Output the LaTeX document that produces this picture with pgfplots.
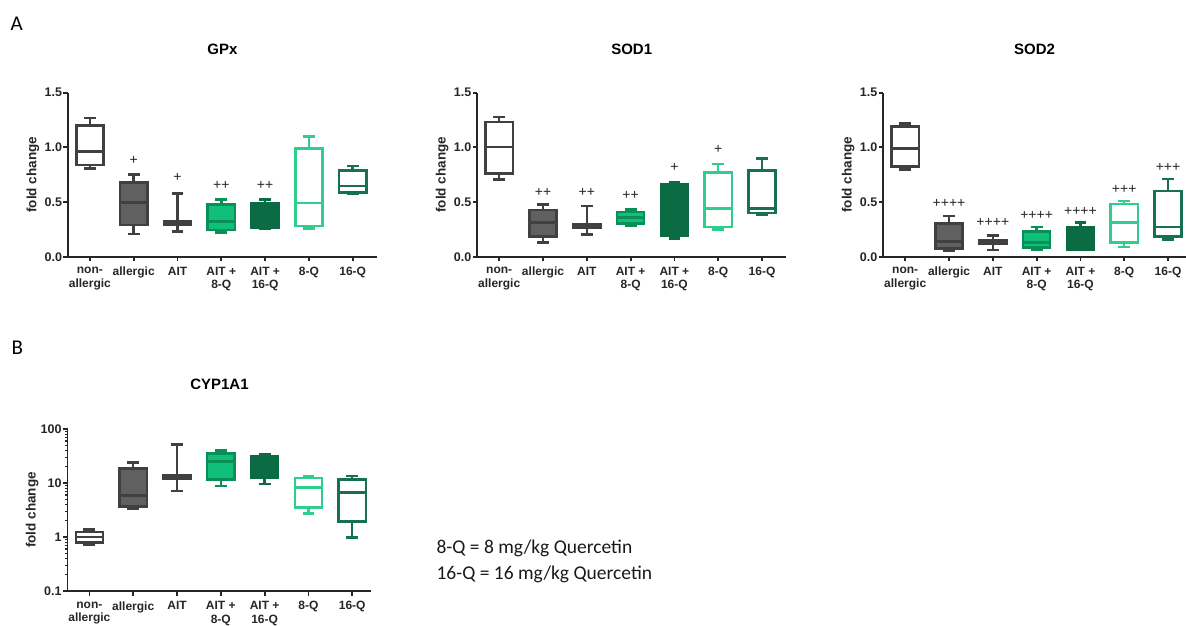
\documentclass[border=0pt]{standalone}
\usepackage{pgfplots}
\pgfplotsset{compat=1.18}
\usepgfplotslibrary{statistics}
\usepackage{fontspec}
\setmainfont{Liberation Sans}
\newfontfamily\calibri{Carlito}
\definecolor{dg}{HTML}{404040}
\definecolor{mg}{HTML}{606060}
\definecolor{gEight}{HTML}{10C07A}
\definecolor{gEightE}{HTML}{0A8F57}
\definecolor{gSixteen}{HTML}{0B6B42}
\definecolor{gLight}{HTML}{2ECF8E}
\definecolor{gQSixteen}{HTML}{177050}
\tikzset{
 nonall/.style={draw=dg, fill=white},
 allg/.style={draw=dg, fill=mg},
 ait/.style={draw=dg, fill=dg},
 aiteight/.style={draw=gEightE, fill=gEight},
 aitsixteen/.style={draw=gSixteen, fill=gSixteen},
 qeight/.style={draw=gLight, fill=white},
 qsixteen/.style={draw=gQSixteen, fill=white},
}
\newcommand{\bx}[7]{\addplot[#1, line width=2.5pt, solid, boxplot prepared={draw position=#2, lower whisker=#3, lower quartile=#4, median=#5, upper quartile=#6, upper whisker=#7}] coordinates {};}
\newcommand{\sig}[1]{\addplot[draw=none, mark=none, nodes near coords, point meta=explicit symbolic, nodes near coords style={anchor=center, font=\fontsize{14}{14}\selectfont, text=black!85, inner sep=0pt}] coordinates {#1};}
\pgfplotsset{
 boxax/.style={
  scale only axis, anchor=south west,
  axis x line=bottom, axis y line=left,
  axis line style={-, line width=1.8pt, draw=black!85},
  clip=false,
  xmin=-0.5,
  xtick={0,1,2,3,4,5,6},
  xticklabels={non-\\allergic, allergic, AIT, AIT +\\8-Q, AIT +\\16-Q, 8-Q, 16-Q},
  xticklabel style={align=center, font=\fontsize{12}{13.5}\selectfont\bfseries, text=black!85, yshift=-2.5pt},
  yticklabel style={font=\fontsize{12.5}{14}\selectfont\bfseries, text=black!85, xshift=2pt},
  tick align=outside, major tick length=4.5pt, minor tick length=2.5pt,
  every tick/.style={line width=1.8pt, black!85},
  minor tick style={line width=1.3pt, black!85},
  /pgf/number format/assume math mode=true,
  ylabel={fold change},
  ylabel style={font=\fontsize{13.5}{15}\selectfont\bfseries, text=black!85, anchor=center},
  title style={font=\fontsize{15}{17}\selectfont\bfseries, text=black, anchor=center},
  boxplot/draw direction=y,
  boxplot/box extend=0.62, boxplot/whisker extend=0.27,
 },
 linax/.style={
  height=164pt, ymin=0, ymax=1.5, ytick={0,0.5,1,1.5},
  yticklabels={0.0,0.5,1.0,1.5},
  title style={at={(axis description cs:0.5,1.23)}},
 },
}
\begin{document}
\begin{tikzpicture}
\useasboundingbox (0pt,0pt) rectangle (1186pt,-625pt);
\node[anchor=base west, font=\calibri\fontsize{21}{24}\selectfont] at (7pt,-30pt) {A};
\node[anchor=base west, font=\calibri\fontsize{21}{24}\selectfont] at (8pt,-354pt) {B};
% GPx
\begin{axis}[boxax, linax, at={(68pt,-256.7pt)}, width=308.8pt, xmax=6.55, title={GPx},
  ylabel style={at={(axis description cs:-0.114,0.5)}}]
\bx{nonall}{0}{0.808}{0.839}{0.960}{1.200}{1.268}
\bx{allg}{1}{0.209}{0.290}{0.497}{0.680}{0.750}
\bx{ait}{2}{0.230}{0.296}{0.312}{0.328}{0.580}
\bx{aiteight}{3}{0.223}{0.244}{0.320}{0.476}{0.521}
\bx{aitsixteen}{4}{0.253}{0.268}{0.350}{0.488}{0.521}
\bx{qeight}{5}{0.256}{0.280}{0.491}{0.991}{1.098}
\bx{qsixteen}{6}{0.573}{0.588}{0.649}{0.787}{0.829}
\sig{(1,0.882)[+] (2,0.729)[+] (3,0.650)[++] (4,0.650)[++]}
\end{axis}
% SOD1
\begin{axis}[boxax, linax, at={(477.3pt,-256.7pt)}, width=308.8pt, xmax=6.55, title={SOD1},
  ylabel style={at={(axis description cs:-0.114,0.5)}}]
\bx{nonall}{0}{0.707}{0.759}{1.003}{1.232}{1.280}
\bx{allg}{1}{0.131}{0.183}{0.311}{0.427}{0.476}
\bx{ait}{2}{0.204}{0.268}{0.280}{0.299}{0.463}
\bx{aiteight}{3}{0.280}{0.305}{0.360}{0.410}{0.433}
\bx{aitsixteen}{4}{0.168}{0.192}{0.400}{0.662}{0.677}
\bx{qeight}{5}{0.250}{0.270}{0.440}{0.772}{0.850}
\bx{qsixteen}{6}{0.381}{0.402}{0.442}{0.787}{0.900}
\sig{(1,0.585)[++] (2,0.585)[++] (3,0.558)[++] (4,0.814)[+] (5,0.978)[+]}
\end{axis}
% SOD2
\begin{axis}[boxax, linax, at={(883.3pt,-256.7pt)}, width=302.7pt, xmax=6.41, title={SOD2},
  ylabel style={at={(axis description cs:-0.116,0.5)}}]
\bx{nonall}{0}{0.799}{0.823}{0.991}{1.189}{1.220}
\bx{allg}{1}{0.052}{0.076}{0.137}{0.305}{0.372}
\bx{ait}{2}{0.061}{0.116}{0.134}{0.149}{0.192}
\bx{aiteight}{3}{0.064}{0.085}{0.128}{0.229}{0.274}
\bx{aitsixteen}{4}{0.061}{0.067}{0.150}{0.274}{0.311}
\bx{qeight}{5}{0.088}{0.128}{0.314}{0.482}{0.509}
\bx{qsixteen}{6}{0.159}{0.183}{0.271}{0.601}{0.710}
\sig{(1,0.488)[++++] (2,0.311)[++++] (3,0.381)[++++] (4,0.412)[++++] (5,0.618)[+++] (6,0.816)[+++]}
\end{axis}
% CYP1A1 (values as log10 of fold change; axis labelled logarithmically)
\begin{axis}[boxax, at={(67.5pt,-591pt)}, width=304pt, height=162pt, xmax=6.44,
  ymin=-1, ymax=2, ytick={-1,0,1,2}, yticklabels={0.1,1,10,100},
  minor ytick={-0.699,-0.523,-0.398,-0.301,-0.222,-0.155,-0.097,-0.046,
               0.301,0.477,0.602,0.699,0.778,0.845,0.903,0.954,
               1.301,1.477,1.602,1.699,1.778,1.845,1.903,1.954},
  title={CYP1A1}, title style={at={(axis description cs:0.5,1.24)}},
  ylabel style={at={(axis description cs:-0.116,0.5)}}]
\bx{nonall}{0}{-0.143}{-0.102}{0.004}{0.093}{0.143}
\bx{allg}{1}{0.519}{0.568}{0.771}{1.272}{1.384}
\bx{ait}{2}{0.851}{1.076}{1.117}{1.149}{1.716}
\bx{aiteight}{3}{0.944}{1.068}{1.394}{1.550}{1.598}
\bx{aitsixteen}{4}{0.982}{1.093}{1.301}{1.500}{1.537}
\bx{qeight}{5}{0.431}{0.544}{0.919}{1.097}{1.134}
\bx{qsixteen}{6}{-0.013}{0.283}{0.820}{1.068}{1.134}
\end{axis}
\node[anchor=base west, font=\calibri\fontsize{19.5}{24}\selectfont, text=black!90] at (433pt,-553.3pt) {8-Q = 8 mg/kg Quercetin};
\node[anchor=base west, font=\calibri\fontsize{19.5}{24}\selectfont, text=black!90] at (433pt,-579pt) {16-Q = 16 mg/kg Quercetin};
\end{tikzpicture}
\end{document}
